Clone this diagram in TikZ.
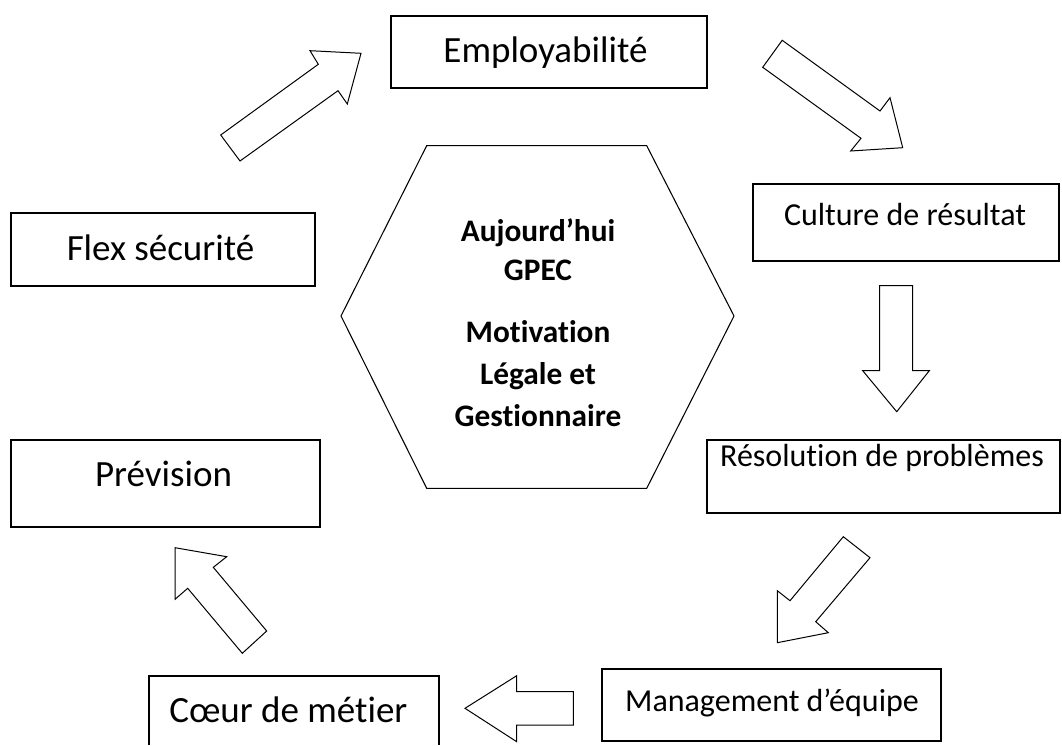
\documentclass[tikz,border=0pt]{standalone}
\usepackage{fontspec}
\setmainfont{Carlito}[Ligatures={NoCommon}]

\tikzset{
  frame/.style={draw=black, line width=0.8pt},
  blockarrow/.style={draw=black, line width=0.75pt, line join=miter},
  biglabel/.style={anchor=base, inner sep=0pt, font=\fontsize{27.75}{33}\selectfont},
  smalllabel/.style={anchor=base, inner sep=0pt, font=\fontsize{24}{29}\selectfont},
  hubtext/.style={anchor=base, inner sep=0pt, font=\bfseries\fontsize{23.5}{28}\selectfont},
}

\begin{document}
\begin{tikzpicture}[x=0.75pt, y=-0.75pt]
    \useasboundingbox (0,0) rectangle (1062,745);
    % boxes round the cycle
    \draw [frame] (391,16) rectangle (707,88) ;
    \node [biglabel] (empl) at (545.5,62.3) {Employabilité} ;
    \draw [frame] (753,184) rectangle (1059,261) ;
    \node [smalllabel] (cult) at (905,225) {Culture de résultat} ;
    \draw [frame] (707,440) rectangle (1060,513) ;
    \node [smalllabel] (reso) at (882,466.7) {Résolution de problèmes} ;
    \draw [frame] (602,669) rectangle (941,741) ;
    \node [smalllabel] (mgmt) at (772,711.7) {Management d’équipe} ;
    \draw [frame] (149,745) -- (149,676) -- (439,676) -- (439,745) ;
    \node [biglabel] (coeur) at (288.3,722.3) {Cœur de métier} ;
    \draw [frame] (11,440) rectangle (320,527) ;
    \node [biglabel] (prev) at (163.5,486.7) {Prévision} ;
    \draw [frame] (11,213) rectangle (315,286) ;
    \node [biglabel] (flex) at (160.5,260) {Flex sécurité} ;
    % centre hexagon
    \draw [frame] (426.7,145.7) -- (646.7,145.7) -- (734,316) -- (646.7,488.3)
      -- (426.7,488.3) -- (341,316) -- cycle ;
    \foreach \y/\t [count=\i] in {241/Aujourd’hui, 280.7/GPEC, 342.7/Motivation,
      384.3/Légale et, 426/Gestionnaire}
      \node [hubtext] (hub\i) at (538,\y) {\t} ;
    % block arrows
    \draw [blockarrow] (220.7,135) -- (318.3,64.3) -- (310,50.7) -- (361,53.3)
      -- (347.3,104) -- (338,90.7) -- (240,161) -- cycle ;
    \draw [blockarrow] (782.2,40.3) -- (880,111) -- (890,97.7) -- (902.7,147.7)
      -- (850.7,151) -- (861,138.3) -- (762.7,67.3) -- cycle ;
    \draw [blockarrow] (879.5,285.7) -- (912.7,285.7) -- (912.7,370.7) -- (929.3,370.7)
      -- (896.7,411.7) -- (862.7,370.7) -- (879.5,370.7) -- cycle ;
    \draw [blockarrow] (843.3,536.7) -- (870,557.7) -- (815.7,621.7) -- (828.3,632.7)
      -- (777.3,642.7) -- (777.3,590.7) -- (790,600.7) -- cycle ;
    \draw [blockarrow] (465,708.3) -- (516.7,675.7) -- (516.7,691.7) -- (573.3,691.7)
      -- (573.3,725) -- (516.7,725) -- (516.7,741.7) -- cycle ;
    \draw [blockarrow] (175,547.7) -- (226.7,556.7) -- (213.3,567.3) -- (266.7,631)
      -- (242.3,653.3) -- (187.7,588.3) -- (175,599.3) -- cycle ;
\end{tikzpicture}
\end{document}
